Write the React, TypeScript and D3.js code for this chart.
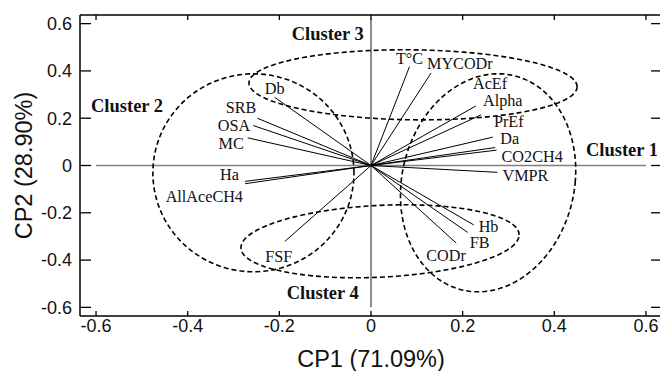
import * as d3 from "d3";

// loadings on CP1 / CP2
const varNames = ["T°C", "MYCODr", "AcEf", "Alpha", "PrEf", "Da", "CO2CH4", "VMPR", "Hb", "FB", "CODr", "FSF", "AllAceCH4", "Ha", "MC", "OSA", "SRB", "Db"];
const cp1 = [0.084, 0.131, 0.229, 0.24, 0.266, 0.271, 0.274, 0.276, 0.224, 0.211, 0.186, -0.188, -0.275, -0.275, -0.269, -0.257, -0.248, -0.21];
const cp2 = [0.418, 0.391, 0.252, 0.214, 0.12, 0.076, 0.065, -0.029, -0.251, -0.283, -0.328, -0.321, -0.077, -0.067, 0.117, 0.169, 0.2, 0.288];

// cluster ellipses: centre + two conjugate half-axes (data units)
const clusterNames = ["Cluster 1", "Cluster 2", "Cluster 3", "Cluster 4"];
const clusterCx = [0.2555, -0.2566, 0.0917, 0.0197];
const clusterCy = [-0.0732, -0.0309, 0.3412, -0.3205];
const clusterUx = [0.19, 0.2194, 0.358, 0.3035];
const clusterUy = [0, 0, -0.008, 0.027];
const clusterVx = [0.0218, 0, 0, 0];
const clusterVy = [0.461, 0.4186, 0.148, 0.152];
const clusterLabelX = [0.469, -0.611, -0.173, -0.184];
const clusterLabelY = [0.042, 0.228, 0.531, -0.564];

const ticks = [-0.6, -0.4, -0.2, 0, 0.2, 0.4, 0.6];

// label placement relative to the arrow tip (px)
const labelAnchor = ["middle", "start", "start", "start", "start", "start", "start", "start", "start", "start", "start", "middle", "end", "end", "end", "end", "end", "middle"];
const labelDx = [0, -4, -3, 2, 1, 5, 5, 5, 5, 2, -30, -6, -2, -6, -4, -3, -1, 0];
const labelDy = [-3, -4, -17, -9, -10, -4, 12, 9, 7, 16, 18, 21, 18, -1, 11, 5, -5, -3];

const W = 660;
const H = 371;
const margin = { top: 15, right: -2, bottom: 55, left: 80 };

export default function App() {
  const x = d3.scaleLinear().domain([-0.635, 0.635]).range([margin.left, W - margin.right]);
  const y = d3.scaleLinear().domain([-0.6365, 0.6365]).range([H - margin.bottom, margin.top]);

  const fmt = (d: number) => (d === 0 ? "0" : d.toFixed(1));

  const ellipse = d3
    .line<[number, number]>()
    .x((d) => x(d[0]))
    .y((d) => y(d[1]))
    .curve(d3.curveLinearClosed);

  const ellipsePath = (i: number) => {
    const pts: [number, number][] = d3.range(0, 2 * Math.PI, Math.PI / 90).map((t) => [
      clusterCx[i] + clusterUx[i] * Math.cos(t) + clusterVx[i] * Math.sin(t),
      clusterCy[i] + clusterUy[i] * Math.cos(t) + clusterVy[i] * Math.sin(t),
    ]);
    return ellipse(pts) || "";
  };

  const x0 = margin.left;
  const x1 = W - margin.right;
  const y0 = margin.top;
  const y1 = H - margin.bottom;

  return (
    <svg width={W} height={H} style={{ position: "absolute", left: 0, top: 0, background: "#fff" }}>
      {/* zero lines */}
      <line x1={x(-0.6)} x2={x(0.6)} y1={y(0)} y2={y(0)} stroke="#808080" strokeWidth={1.5} />
      <line x1={x(0)} x2={x(0)} y1={y(0.62)} y2={y(-0.6)} stroke="#808080" strokeWidth={1.8} />

      {/* loading vectors */}
      {varNames.map((n, i) => (
        <line key={n} x1={x(0)} y1={y(0)} x2={x(cp1[i])} y2={y(cp2[i])} stroke="#000" strokeWidth={1} />
      ))}

      {/* cluster ellipses */}
      {clusterNames.map((n, i) => (
        <path key={n} d={ellipsePath(i)} fill="none" stroke="#000" strokeWidth={1.6} strokeDasharray="5,3" />
      ))}

      {/* variable labels */}
      {varNames.map((n, i) => (
        <text
          key={n}
          x={x(cp1[i]) + labelDx[i]}
          y={y(cp2[i]) + labelDy[i]}
          textAnchor={labelAnchor[i]}
          fontFamily="'Liberation Serif', 'Times New Roman', serif"
          fontSize={16.2}
          fill="#111"
        >
          {n}
        </text>
      ))}

      {/* cluster labels */}
      {clusterNames.map((n, i) => (
        <text
          key={n}
          x={x(clusterLabelX[i])}
          y={y(clusterLabelY[i])}
          fontFamily="'Liberation Serif', 'Times New Roman', serif"
          fontWeight="bold"
          fontSize={18.5}
          fill="#111"
        >
          {n}
        </text>
      ))}

      {/* frame */}
      <line x1={x0} x2={x0} y1={y0} y2={y1} stroke="#000" strokeWidth={1.5} />
      <line x1={x0} x2={x1} y1={y0} y2={y0} stroke="#000" strokeWidth={1.5} />
      <line x1={x0} x2={x1} y1={y1} y2={y1} stroke="#000" strokeWidth={1.5} />
      <line x1={x1} x2={x1} y1={y0} y2={y1} stroke="#000" strokeWidth={1.5} />

      {/* ticks */}
      {ticks.map((t) => (
        <g key={"x" + t}>
          <line x1={x(t)} x2={x(t)} y1={y1} y2={y1 - 5} stroke="#000" strokeWidth={1.3} />
          <line x1={x(t)} x2={x(t)} y1={y0} y2={y0 + 5} stroke="#000" strokeWidth={1.3} />
          <text x={x(t)} y={y1 + 16} textAnchor="middle" fontFamily="'Liberation Sans', Arial, sans-serif" fontSize={18} fill="#111">
            {fmt(t)}
          </text>
        </g>
      ))}
      {ticks.map((t) => (
        <g key={"y" + t}>
          <line x1={x0} x2={x0 + 11} y1={y(t)} y2={y(t)} stroke="#000" strokeWidth={1.3} />
          <line x1={x1} x2={x1 - 11} y1={y(t)} y2={y(t)} stroke="#000" strokeWidth={1.3} />
          <text x={x0 - 8} y={y(t)} dy="0.35em" textAnchor="end" fontFamily="'Liberation Sans', Arial, sans-serif" fontSize={18} fill="#111">
            {fmt(t)}
          </text>
        </g>
      ))}

      {/* axis titles */}
      <text x={x(0)} y={H - 4} textAnchor="middle" fontFamily="'Liberation Sans', Arial, sans-serif" fontSize={23.5} fill="#111">
        CP1 (71.09%)
      </text>
      <text
        transform={`translate(32,${y(0)}) rotate(-90)`}
        textAnchor="middle"
        fontFamily="'Liberation Sans', Arial, sans-serif"
        fontSize={23.5}
        fill="#111"
      >
        CP2 (28.90%)
      </text>
    </svg>
  );
}
